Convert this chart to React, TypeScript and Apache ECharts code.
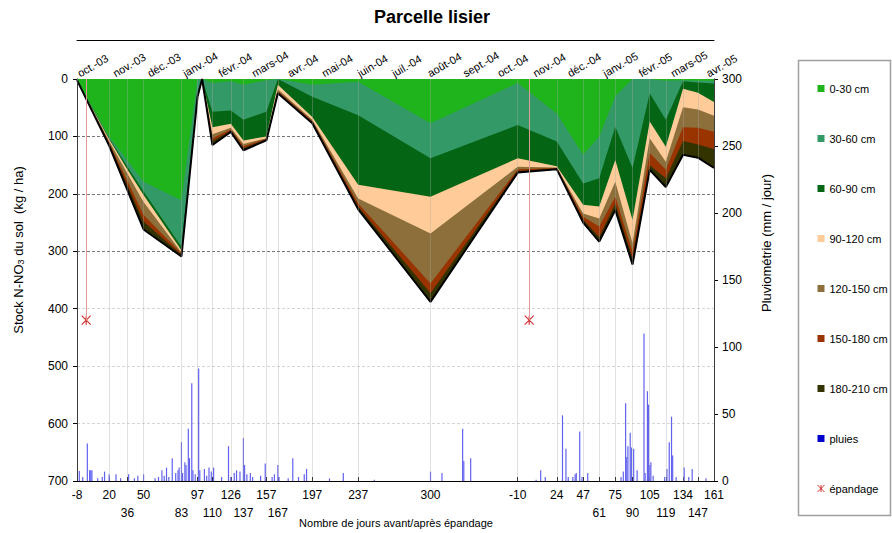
import React, { useEffect, useRef } from 'react';
import * as echarts from 'echarts';

// ---- dates ----
const FIRST_SPREADING = Date.UTC(2003, 9, 8);
const SECOND_SPREADING = Date.UTC(2004, 9, 28);
const DAY_MS = 864e5;
const SEASON2_OFFSET = Math.round((SECOND_SPREADING - FIRST_SPREADING) / DAY_MS);

// ---- sampling days (days before/after each spreading) ----
const S1_DAYS = [-8, 20, 36, 50, 83, 97, 101, 110, 126, 137, 157, 167, 197, 237, 300];
const GAP_DAY = 101; // no sample: profile drops to 0 in the original chart
const S2_DAYS = [-10, 24, 47, 61, 75, 90, 105, 119, 134, 147, 161];
// label row (1 = upper row, 2 = lower row) for labelled days
const S1_ROW = [1, 1, 2, 1, 2, 1, 2, 1, 2, 1, 2, 1, 1, 1];
const S2_ROW = [1, 1, 1, 2, 1, 2, 1, 2, 1, 2, 1];

// ---- soil nitrate stock per layer (kg N/ha) ----
const L0_30 = [2, 100, 142, 179, 211, 0, 0, 7, 4, 10, 2, 0, 10, 5, 77, 7, 60, 132, 100, 30, 0, 0, 3, 2, 3, 3];
const L30_60 = [0, 3, 11, 17, 81, 24, 0, 50, 51, 61, 55, 0, 21, 58, 61, 73, 49, 50, 73, 53, 155, 25, 68, 2, 3, 5];
const L60_90 = [0, 2, 5, 6, 6, 2, 0, 27, 23, 36, 43, 10, 35, 121, 67, 58, 43, 37, 49, 58, 90, 49, 47, 13, 18, 32];
const L90_120 = [0, 3, 7, 12, 4, 1, 0, 12, 7, 6, 3, 8, 5, 24, 64, 15, 2, 15, 21, 38, 41, 29, 26, 32, 29, 24];
const L120_150 = [0, 3, 13, 23, 2, 1, 0, 7, 3, 4, 1, 3, 2, 9, 87, 4, 1, 6, 14, 26, 15, 26, 14, 35, 32, 28];
const L150_180 = [0, 2, 7, 11, 2, 1, 0, 5, 2, 3, 1, 2, 2, 5, 17, 3, 1, 5, 18, 12, 11, 21, 15, 24, 29, 30];
const L180_210 = [0, 3, 9, 14, 3, 2, 0, 7, 2, 4, 2, 2, 2, 5, 15, 3, 1, 5, 8, 11, 11, 8, 15, 24, 23, 33];

const LAYER_NAMES = ['0-30 cm', '30-60 cm', '60-90 cm', '90-120 cm', '120-150 cm', '150-180 cm', '180-210 cm'];
const LAYER_VALUES = [L0_30, L30_60, L60_90, L90_120, L120_150, L150_180, L180_210];
const LAYER_COLORS = ['#20b41c', '#339966', '#046614', '#ffcc99', '#8c6f3a', '#993300', '#333300'];

// ---- daily rain (days after first spreading, mm/day) ----
const RAIN_DAYS = [
  -6, -3, 1, 3, 4, 5, 10, 14, 16, 20,
  26, 30, 37, 42, 45, 50, 60, 63, 66, 68,
  70, 72, 75, 78, 80, 81, 83, 84, 86, 87,
  89, 90, 92, 93, 95, 98, 99, 103, 105, 107,
  109, 111, 118, 124, 126, 129, 131, 134, 137, 138,
  140, 143, 145, 152, 156, 162, 164, 167, 168, 176,
  180, 185, 190, 192, 212, 224, 251, 300, 310, 328,
  329, 335, 392, 396, 400, 415, 418, 420, 424, 426,
  427, 430, 432, 437, 466, 468, 470, 471, 472, 474,
  475, 477, 480, 486, 487, 489, 490, 491, 492, 494,
  504, 506, 508, 510, 511, 514, 521, 525, 528, 540,
];
const RAIN_MM = [
  7.5, 3, 28, 8, 8, 8, 2, 3, 7, 5,
  5, 2, 5, 2, 4, 5, 2, 3, 8, 4,
  10, 3, 17, 6, 8, 10, 29, 6, 14, 12,
  39, 17, 73, 8, 5, 84, 8, 9, 4, 10,
  7, 10, 3, 26, 3, 6, 8, 7, 32, 12,
  5, 6, 3, 4, 13, 3, 5, 12, 3, 2,
  17, 3, 5, 9, 2, 6, 1, 7, 6, 39,
  15, 17, 1, 8, 3, 49, 24, 3, 3, 5,
  6, 37, 3, 6, 3, 7, 58, 18, 26, 36,
  25, 24, 8, 110, 6, 67, 57, 12, 14, 4,
  3, 9, 29, 48, 19, 3, 10, 3, 9, 2,
];

// ---- spreading events (days after first spreading) ----
const SPREADING_DAYS = [0, SEASON2_OFFSET];
const SPREADING_MARK = 420; // on the stock axis

// ---- top axis months ----
const MONTH_LABELS = ['oct.-03', 'nov.-03', 'déc.-03', 'janv.-04', 'févr.-04', 'mars-04', 'avr.-04', 'mai-04', 'juin-04', 'juil.-04',
  'août-04', 'sept.-04', 'oct.-04', 'nov.-04', 'déc.-04', 'janv.-05', 'févr.-05', 'mars-05', 'avr.-05'];

const FONT = 'Arial, "Liberation Sans", Helvetica, sans-serif';

export default function App() {
  const ref = useRef<HTMLDivElement>(null);

  useEffect(() => {
    if (!ref.current) return;
    const chart = echarts.init(ref.current, undefined, { renderer: 'svg' });

    const profileX = [...S1_DAYS, ...S2_DAYS.map((d) => d + SEASON2_OFFSET)];
    const tickX: number[] = [];
    const row1X: number[] = [];
    const row2X: number[] = [];
    const tickLabel: Record<string, string> = {};
    S1_DAYS.filter((d) => d !== GAP_DAY).forEach((d, i) => {
      tickX.push(d);
      (S1_ROW[i] === 2 ? row2X : row1X).push(d);
      tickLabel[String(d)] = String(d);
    });
    S2_DAYS.forEach((d, i) => {
      const x = d + SEASON2_OFFSET;
      tickX.push(x);
      (S2_ROW[i] === 2 ? row2X : row1X).push(x);
      tickLabel[String(x)] = String(d);
    });
    const xMin = profileX[0];
    const xMax = profileX[profileX.length - 1];

    const monthX: number[] = [];
    const monthLabel: Record<string, string> = {};
    MONTH_LABELS.forEach((m, i) => {
      const x = Math.round((Date.UTC(2003, 9 + i, 1) - FIRST_SPREADING) / DAY_MS);
      monthX.push(x);
      monthLabel[String(x)] = m;
    });

    const ASTERISK = 'path://M0,0L10,10M10,0L0,10M5,0L5,10';

    // Cumulative stock from the surface down to the bottom of each layer.
    const cumulative = LAYER_VALUES.map((_, k) =>
      profileX.map((_x, i) => LAYER_VALUES.slice(0, k + 1).reduce((s, arr) => s + arr[i], 0))
    );

    // Deepest layer first so shallower layers are painted over it (same look as a stacked area).
    const areaSeries = LAYER_NAMES.map((name, k) => ({
      name,
      type: 'line',
      xAxisIndex: 0,
      yAxisIndex: 0,
      symbol: 'none',
      showSymbol: false,
      color: LAYER_COLORS[k],
      lineStyle: k === LAYER_NAMES.length - 1 ? { color: '#000', width: 2 } : { width: 0, opacity: 0 },
      areaStyle: { color: LAYER_COLORS[k], opacity: 1, origin: 'start' },
      data: profileX.map((x, i) => [x, cumulative[k][i]]),
      z: 2,
    })).reverse();

    const labelBase = {
      formatter: (v: number) => tickLabel[String(v)] ?? '',
      fontSize: 12, color: '#000', fontFamily: FONT,
      showMinLabel: true, showMaxLabel: true, hideOverlap: false,
    };

    const option: any = {
      animation: false,
      backgroundColor: '#fff',
      textStyle: { fontFamily: FONT },
      grid: { left: 77, right: 178, top: 79, bottom: 52, containLabel: false },
      legend: {
        orient: 'vertical',
        left: 817,
        top: 82,
        padding: 0,
        itemWidth: 7,
        itemHeight: 7,
        itemGap: 37,
        icon: 'rect',
        selectedMode: false,
        itemStyle: { borderWidth: 0 },
        textStyle: { fontSize: 11, color: '#000', fontFamily: FONT, lineHeight: 13 },
        data: [
          ...LAYER_NAMES,
          { name: 'pluies', itemStyle: { color: '#0000cc' } },
          { name: 'épandage', icon: ASTERISK, itemStyle: { color: 'transparent', borderColor: '#cc0000', borderWidth: 1 } },
        ],
      },
      xAxis: [
        {
          type: 'value', min: xMin, max: xMax, position: 'bottom',
          axisLine: { show: true, lineStyle: { color: '#000', width: 1 } },
          axisTick: { show: true, customValues: tickX, length: 4, lineStyle: { color: '#000' } },
          axisLabel: { ...labelBase, customValues: row1X, margin: 8 },
          splitLine: { show: false },
        },
        {
          type: 'value', min: xMin, max: xMax, position: 'top',
          axisLine: { show: true, lineStyle: { color: '#000', width: 1 } },
          axisTick: { show: false },
          axisLabel: {
            customValues: monthX, formatter: (v: number) => monthLabel[String(v)] ?? '',
            rotate: 30, fontSize: 11, color: '#000', margin: 5, fontFamily: FONT,
            showMinLabel: true, showMaxLabel: true, hideOverlap: false,
          },
          splitLine: { show: false },
        },
        {
          type: 'value', min: xMin, max: xMax, position: 'top', offset: 39,
          axisLine: { show: true, lineStyle: { color: '#000', width: 1 } },
          axisTick: { show: false }, axisLabel: { show: false }, splitLine: { show: false },
        },
        {
          type: 'value', min: xMin, max: xMax, position: 'bottom',
          axisLine: { show: false },
          axisTick: { show: true, inside: true, customValues: tickX, length: 4, lineStyle: { color: '#000' } },
          axisLabel: { ...labelBase, customValues: row2X, margin: 26 },
          splitLine: { show: false },
        },
      ],
      yAxis: [
        {
          type: 'value', inverse: true, min: 0, max: 700, interval: 100, position: 'left',
          axisLine: { show: true, onZero: false, lineStyle: { color: '#000', width: 1 } },
          axisTick: { show: true, length: 4, lineStyle: { color: '#000' } },
          axisLabel: { fontSize: 12, color: '#000', margin: 9, fontFamily: FONT },
          splitLine: {
            show: true,
            lineStyle: { color: ['#888', '#777', '#777', '#777', '#d6d6d6', '#d6d6d6', '#d6d6d6', '#888'], type: [3, 2], width: 1 },
          },
        },
        {
          type: 'value', min: 0, max: 300, interval: 50, position: 'right',
          axisLine: { show: true, onZero: false, lineStyle: { color: '#000', width: 1 } },
          axisTick: { show: true, length: 4, lineStyle: { color: '#000' } },
          axisLabel: { fontSize: 12, color: '#000', margin: 8, fontFamily: FONT },
          splitLine: { show: false },
        },
      ],
      series: [
        ...areaSeries,
        {
          name: 'pluies',
          type: 'bar',
          xAxisIndex: 0,
          yAxisIndex: 1,
          barWidth: 1.2,
          color: '#6262ee',
          itemStyle: { color: '#6262ee' },
          data: RAIN_DAYS.map((d, i) => [d, RAIN_MM[i]]),
          z: 3,
          markLine: {
            silent: true,
            symbol: 'none',
            label: { show: false },
            lineStyle: { color: 'rgba(170,170,170,0.35)', type: 'solid', width: 1 },
            data: tickX.map((x) => ({ xAxis: x })),
          },
        },
        {
          name: 'épandage',
          type: 'scatter',
          xAxisIndex: 0,
          yAxisIndex: 0,
          symbol: ASTERISK,
          symbolSize: 9,
          clip: false,
          itemStyle: { color: 'transparent', borderColor: '#cc0000', borderWidth: 1.2 },
          data: SPREADING_DAYS.map((x) => [x, SPREADING_MARK]),
          z: 4,
          markLine: {
            silent: true,
            symbol: 'none',
            label: { show: false },
            lineStyle: { color: '#e09a9a', type: 'solid', width: 1 },
            data: SPREADING_DAYS.map((x) => [{ coord: [x, 0] }, { coord: [x, SPREADING_MARK] }]),
          },
        },
      ],
      graphic: [
        {
          type: 'text', x: 432, y: 17,
          style: { text: 'Parcelle lisier', fontSize: 18, fontWeight: 'bold', fontFamily: FONT, fill: '#000', align: 'center', verticalAlign: 'middle' },
        },
        {
          type: 'text', x: 18, y: 250, rotation: Math.PI / 2,
          style: {
            text: 'Stock N-NO{sub|3} du sol  (kg / ha)', fontSize: 13, fontFamily: FONT, fill: '#000', align: 'center', verticalAlign: 'middle',
            rich: { sub: { fontSize: 9, fontFamily: FONT, fill: '#000', verticalAlign: 'bottom', padding: [6, 0, 0, 0] } },
          },
        },
        {
          type: 'text', x: 766, y: 243, rotation: Math.PI / 2,
          style: { text: 'Pluviométrie (mm / jour)', fontSize: 13, fontFamily: FONT, fill: '#000', align: 'center', verticalAlign: 'middle' },
        },
        {
          type: 'text', x: 396, y: 523,
          style: { text: 'Nombre de jours avant/après épandage', fontSize: 11, fontFamily: FONT, fill: '#000', align: 'center', verticalAlign: 'middle' },
        },
        {
          type: 'rect', shape: { x: 798.5, y: 60.5, width: 92, height: 455 },
          style: { fill: 'none', stroke: '#a0a0a0', lineWidth: 1.5 },
          z: -1,
        },
      ],
    };

    chart.setOption(option);
    return () => chart.dispose();
  }, []);

  return <div ref={ref} style={{ position: 'absolute', left: 0, top: 0, width: 892, height: 533 }} />;
}
